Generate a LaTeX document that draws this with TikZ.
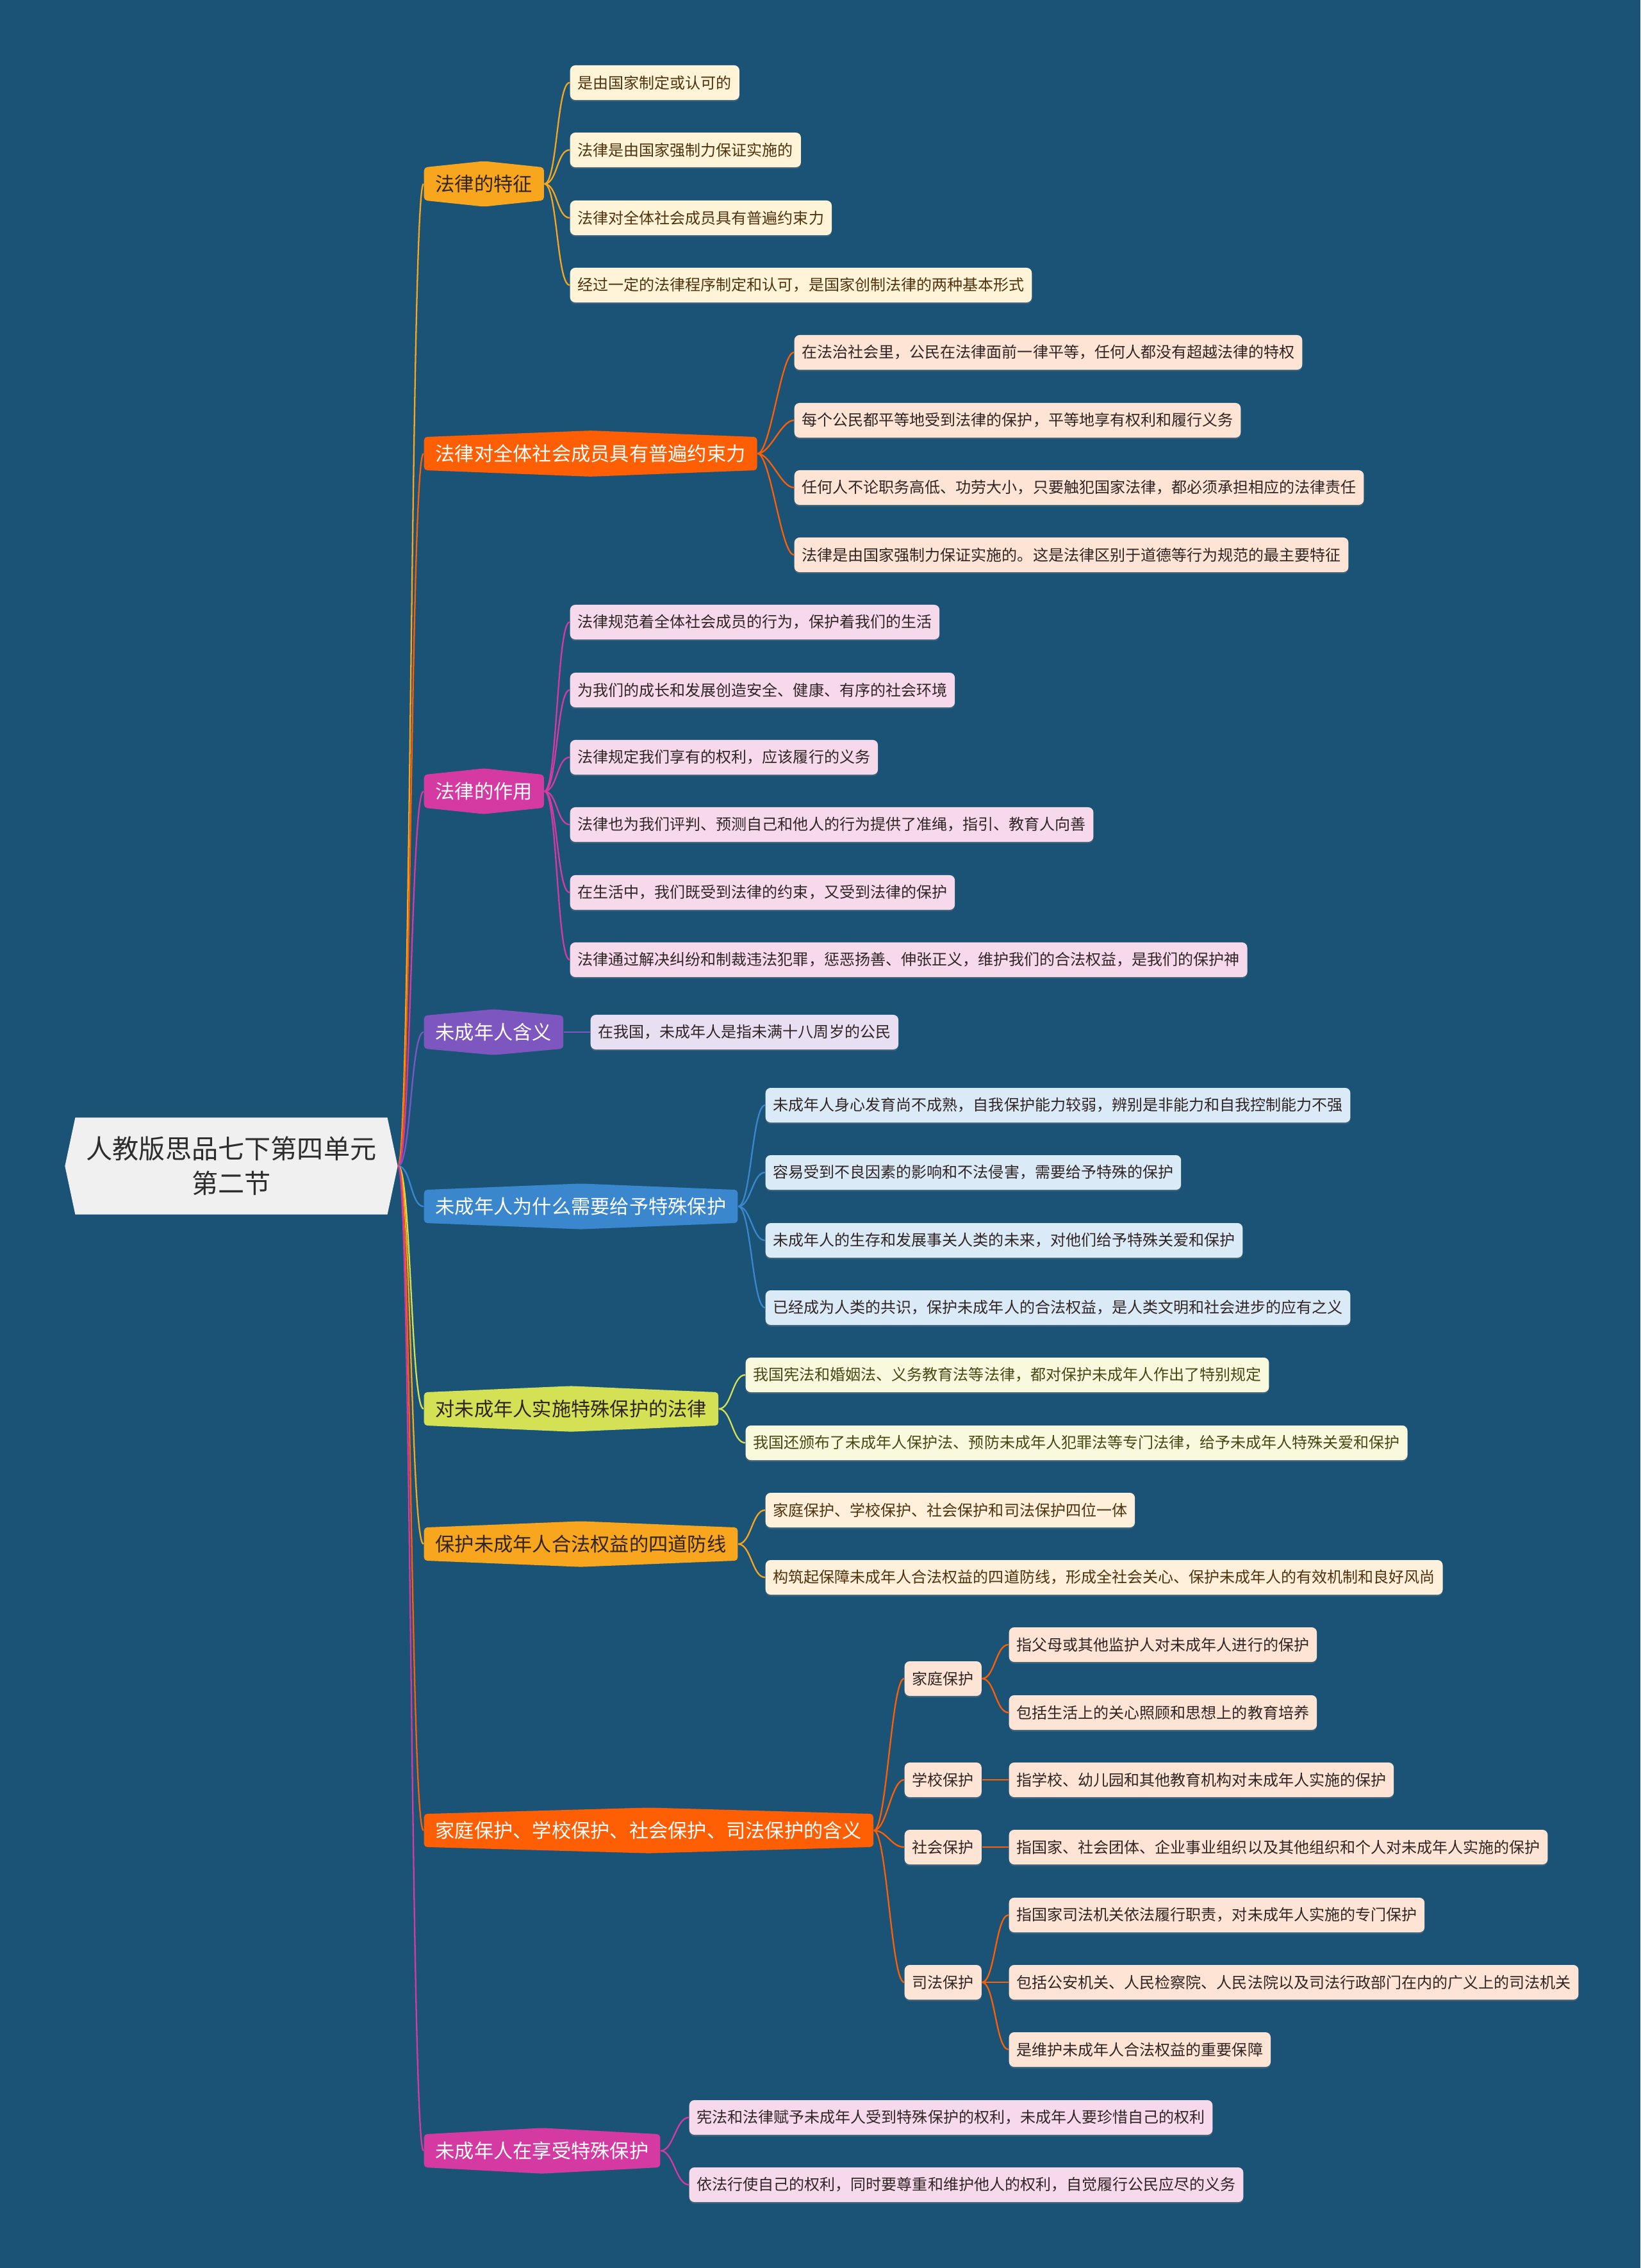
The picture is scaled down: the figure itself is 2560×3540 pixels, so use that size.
\documentclass[tikz,border=0pt]{standalone}
\usepackage{fontspec}
\setmainfont{Noto Sans CJK SC}
\usetikzlibrary{shapes.symbols,shadows}

\definecolor{bgblue}{RGB}{27,83,119}
\definecolor{rootgray}{RGB}{240,240,240}
\definecolor{rootink}{RGB}{45,45,45}
\definecolor{orng}{RGB}{248,166,30}
\definecolor{redor}{RGB}{254,94,4}
\definecolor{mgnt}{RGB}{212,58,162}
\definecolor{prpl}{RGB}{126,86,192}
\definecolor{blu}{RGB}{58,135,206}
\definecolor{limeg}{RGB}{212,225,84}
\definecolor{cream}{RGB}{255,243,216}
\definecolor{peach}{RGB}{253,228,212}
\definecolor{pinkl}{RGB}{246,218,236}
\definecolor{lav}{RGB}{232,224,242}
\definecolor{iceblue}{RGB}{219,234,247}
\definecolor{paleyel}{RGB}{249,249,222}
\definecolor{cream2}{RGB}{254,240,218}
\definecolor{brwn}{RGB}{80,50,12}
\definecolor{ink}{RGB}{48,36,36}
\definecolor{olivet}{RGB}{72,72,20}

\tikzset{
    root/.style={signal, signal to=west and east, signal pointer angle=156,
        fill=rootgray, text=rootink, align=center,
        font=\fontsize{11.7}{15.4}\selectfont,
        minimum width=5.19cm, minimum height=1.51cm},
    branch/.style 2 args={signal, signal to=north and south, signal pointer angle=#2,
        fill=#1, anchor=west, inner xsep=0.18cm, minimum height=0.50cm,
        rounded corners=0.05cm, font=\fontsize{8.6}{10}\selectfont},
    leaf/.style 2 args={rectangle, rounded corners=0.08cm, fill=#1, text=#2,
        anchor=west, inner xsep=0.12cm, inner ysep=0pt, minimum height=0.54cm,
        font=\fontsize{6.83}{8}\selectfont,
        drop shadow={shadow xshift=0pt, shadow yshift=-0.7pt, opacity=0.35}},
    link/.style={draw=#1, line width=0.65pt,
        to path={.. controls +(20,0) and +(-20,0) .. (\tikztotarget)}}
}

\begin{document}
\begin{tikzpicture}[x=0.01cm, y=-0.01cm]
        \useasboundingbox (0,0) rectangle (2560,3540);
        \fill[bgblue] (0,0) rectangle (2560,3540);

        \node[root] (root) at (361,1820) {人教版思品七下第四单元\\第二节};

        \node[branch={orng}{168}, text=ink] (feat) at (661,287) {法律的特征};
        \node[branch={redor}{175.6}, text=white] (bind) at (661,708) {法律对全体社会成员具有普遍约束力};
        \node[branch={mgnt}{168}, text=white] (role) at (661,1235) {法律的作用};
        \node[branch={prpl}{169.6}, text=white] (meaning) at (661,1611) {未成年人含义};
        \node[branch={blu}{175.4}, text=white] (why) at (661,1883) {未成年人为什么需要给予特殊保护};
        \node[branch={limeg}{175.1}, text=ink] (laws) at (661,2199) {对未成年人实施特殊保护的法律};
        \node[branch={orng}{175.4}, text=ink] (lines) at (661,2410) {保护未成年人合法权益的四道防线};
        \node[branch={redor}{176.8}, text=white] (kinds) at (661,2857) {家庭保护、学校保护、社会保护、司法保护的含义};
        \node[branch={mgnt}{173.9}, text=white] (enjoy) at (661,3357) {未成年人在享受特殊保护};

        \draw[link=orng] (root.east) to (feat.west);
        \draw[link=redor] (root.east) to (bind.west);
        \draw[link=mgnt] (root.east) to (role.west);
        \draw[link=prpl] (root.east) to (meaning.west);
        \draw[link=blu] (root.east) to (why.west);
        \draw[link=limeg] (root.east) to (laws.west);
        \draw[link=orng] (root.east) to (lines.west);
        \draw[link=redor] (root.east) to (kinds.west);
        \draw[link=mgnt] (root.east) to (enjoy.west);

        \node[leaf={cream}{brwn}] (feat1) at (889,129) {是由国家制定或认可的};
        \node[leaf={cream}{brwn}] (feat2) at (889,234) {法律是由国家强制力保证实施的};
        \node[leaf={cream}{brwn}] (feat3) at (889,340) {法律对全体社会成员具有普遍约束力};
        \node[leaf={cream}{brwn}] (feat4) at (889,445) {经过一定的法律程序制定和认可，是国家创制法律的两种基本形式};
        \draw[link=orng] (feat.east) to (feat1.west);
        \draw[link=orng] (feat.east) to (feat2.west);
        \draw[link=orng] (feat.east) to (feat3.west);
        \draw[link=orng] (feat.east) to (feat4.west);

        \node[leaf={peach}{ink}] (bind1) at (1239,550) {在法治社会里，公民在法律面前一律平等，任何人都没有超越法律的特权};
        \node[leaf={peach}{ink}] (bind2) at (1239,656) {每个公民都平等地受到法律的保护，平等地享有权利和履行义务};
        \node[leaf={peach}{ink}] (bind3) at (1239,761) {任何人不论职务高低、功劳大小，只要触犯国家法律，都必须承担相应的法律责任};
        \node[leaf={peach}{ink}] (bind4) at (1239,866) {法律是由国家强制力保证实施的。这是法律区别于道德等行为规范的最主要特征};
        \draw[link=redor] (bind.east) to (bind1.west);
        \draw[link=redor] (bind.east) to (bind2.west);
        \draw[link=redor] (bind.east) to (bind3.west);
        \draw[link=redor] (bind.east) to (bind4.west);

        \node[leaf={pinkl}{ink}] (role1) at (889,971) {法律规范着全体社会成员的行为，保护着我们的生活};
        \node[leaf={pinkl}{ink}] (role2) at (889,1077) {为我们的成长和发展创造安全、健康、有序的社会环境};
        \node[leaf={pinkl}{ink}] (role3) at (889,1182) {法律规定我们享有的权利，应该履行的义务};
        \node[leaf={pinkl}{ink}] (role4) at (889,1287) {法律也为我们评判、预测自己和他人的行为提供了准绳，指引、教育人向善};
        \node[leaf={pinkl}{ink}] (role5) at (889,1393) {在生活中，我们既受到法律的约束，又受到法律的保护};
        \node[leaf={pinkl}{ink}] (role6) at (889,1498) {法律通过解决纠纷和制裁违法犯罪，惩恶扬善、伸张正义，维护我们的合法权益，是我们的保护神};
        \draw[link=mgnt] (role.east) to (role1.west);
        \draw[link=mgnt] (role.east) to (role2.west);
        \draw[link=mgnt] (role.east) to (role3.west);
        \draw[link=mgnt] (role.east) to (role4.west);
        \draw[link=mgnt] (role.east) to (role5.west);
        \draw[link=mgnt] (role.east) to (role6.west);

        \node[leaf={lav}{ink}] (meaning1) at (921,1611) {在我国，未成年人是指未满十八周岁的公民};
        \draw[link=prpl] (meaning.east) to (meaning1.west);

        \node[leaf={iceblue}{ink}] (why1) at (1194,1725) {未成年人身心发育尚不成熟，自我保护能力较弱，辨别是非能力和自我控制能力不强};
        \node[leaf={iceblue}{ink}] (why2) at (1194,1830) {容易受到不良因素的影响和不法侵害，需要给予特殊的保护};
        \node[leaf={iceblue}{ink}] (why3) at (1194,1936) {未成年人的生存和发展事关人类的未来，对他们给予特殊关爱和保护};
        \node[leaf={iceblue}{ink}] (why4) at (1194,2041) {已经成为人类的共识，保护未成年人的合法权益，是人类文明和社会进步的应有之义};
        \draw[link=blu] (why.east) to (why1.west);
        \draw[link=blu] (why.east) to (why2.west);
        \draw[link=blu] (why.east) to (why3.west);
        \draw[link=blu] (why.east) to (why4.west);

        \node[leaf={paleyel}{olivet}] (laws1) at (1163,2146) {我国宪法和婚姻法、义务教育法等法律，都对保护未成年人作出了特别规定};
        \node[leaf={paleyel}{olivet}] (laws2) at (1163,2252) {我国还颁布了未成年人保护法、预防未成年人犯罪法等专门法律，给予未成年人特殊关爱和保护};
        \draw[link=limeg] (laws.east) to (laws1.west);
        \draw[link=limeg] (laws.east) to (laws2.west);

        \node[leaf={cream2}{brwn}] (lines1) at (1194,2357) {家庭保护、学校保护、社会保护和司法保护四位一体};
        \node[leaf={cream2}{brwn}] (lines2) at (1194,2462) {构筑起保障未成年人合法权益的四道防线，形成全社会关心、保护未成年人的有效机制和良好风尚};
        \draw[link=orng] (lines.east) to (lines1.west);
        \draw[link=orng] (lines.east) to (lines2.west);

        \node[leaf={peach}{ink}] (family) at (1411,2620) {家庭保护};
        \node[leaf={peach}{ink}] (school) at (1411,2778) {学校保护};
        \node[leaf={peach}{ink}] (society) at (1411,2883) {社会保护};
        \node[leaf={peach}{ink}] (justice) at (1411,3094) {司法保护};
        \draw[link=redor] (kinds.east) to (family.west);
        \draw[link=redor] (kinds.east) to (school.west);
        \draw[link=redor] (kinds.east) to (society.west);
        \draw[link=redor] (kinds.east) to (justice.west);

        \node[leaf={peach}{ink}] (family1) at (1574,2567) {指父母或其他监护人对未成年人进行的保护};
        \node[leaf={peach}{ink}] (family2) at (1574,2673) {包括生活上的关心照顾和思想上的教育培养};
        \node[leaf={peach}{ink}] (school1) at (1574,2778) {指学校、幼儿园和其他教育机构对未成年人实施的保护};
        \node[leaf={peach}{ink}] (society1) at (1574,2883) {指国家、社会团体、企业事业组织以及其他组织和个人对未成年人实施的保护};
        \node[leaf={peach}{ink}] (justice1) at (1574,2989) {指国家司法机关依法履行职责，对未成年人实施的专门保护};
        \node[leaf={peach}{ink}] (justice2) at (1574,3094) {包括公安机关、人民检察院、人民法院以及司法行政部门在内的广义上的司法机关};
        \node[leaf={peach}{ink}] (justice3) at (1574,3199) {是维护未成年人合法权益的重要保障};
        \draw[link=redor] (family.east) to (family1.west);
        \draw[link=redor] (family.east) to (family2.west);
        \draw[link=redor] (school.east) to (school1.west);
        \draw[link=redor] (society.east) to (society1.west);
        \draw[link=redor] (justice.east) to (justice1.west);
        \draw[link=redor] (justice.east) to (justice2.west);
        \draw[link=redor] (justice.east) to (justice3.west);

        \node[leaf={pinkl}{ink}] (enjoy1) at (1075,3305) {宪法和法律赋予未成年人受到特殊保护的权利，未成年人要珍惜自己的权利};
        \node[leaf={pinkl}{ink}] (enjoy2) at (1075,3410) {依法行使自己的权利，同时要尊重和维护他人的权利，自觉履行公民应尽的义务};
        \draw[link=mgnt] (enjoy.east) to (enjoy1.west);
        \draw[link=mgnt] (enjoy.east) to (enjoy2.west);
\end{tikzpicture}
\end{document}
